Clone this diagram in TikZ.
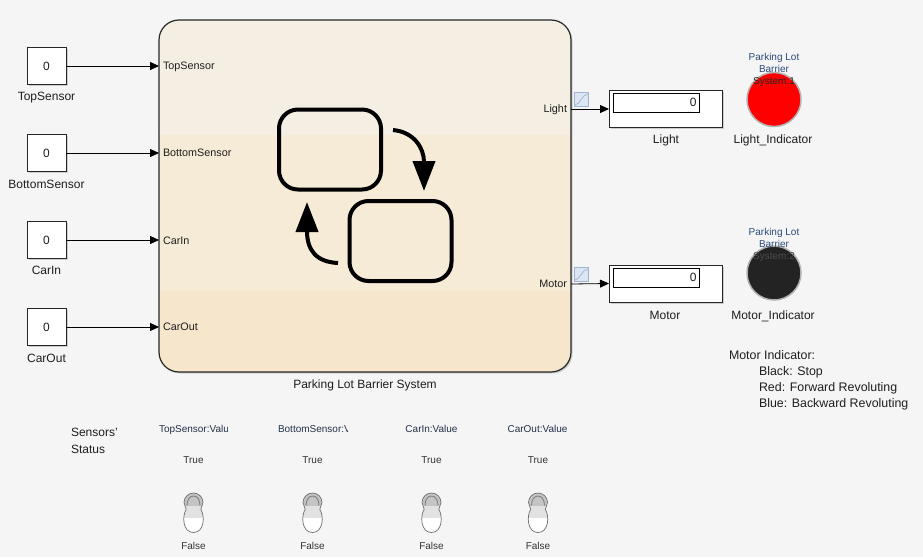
\documentclass[tikz,border=0pt]{standalone}
\usepackage{fontspec}
\setmainfont{Liberation Sans}
\usetikzlibrary{arrows.meta,shadows}
\definecolor{bgc}{HTML}{F5F5F5}
\definecolor{chtop}{HTML}{F5EFE3}
\definecolor{chmid}{HTML}{F6EBD6}
\definecolor{chbot}{HTML}{F6E6CB}
\definecolor{txt}{HTML}{1E1E1E}
\definecolor{lamptxt}{HTML}{2A4A7A}
\definecolor{smalltxt}{HTML}{22324A}
\definecolor{iconfill}{HTML}{DCE6F2}
\definecolor{iconline}{HTML}{9FB5CF}
\definecolor{lampred}{HTML}{FF0000}
\definecolor{lampdark}{HTML}{232323}
\definecolor{tgdark}{HTML}{6E6E6E}
\definecolor{tgtop}{HTML}{C4C4C4}
\definecolor{tgmid}{HTML}{E2E2E2}
\tikzset{
  tog/.pic={
    \begin{scope}
      \clip (-9.5,0) .. controls (-9.5,-5.2) and (-5.2,-9.5) .. (0,-9.5) .. controls (5.2,-9.5) and (9.5,-5.2) .. (9.5,0)
        -- (7.3,7) .. controls (11.5,13) and (11,30) .. (0,30) .. controls (-11,30) and (-11.5,13) .. (-7.3,7) -- cycle;
      \fill[white] (-12,-10) rectangle (12,31);
      \fill[tgtop] (-12,-10) rectangle (12,3);
      \fill[tgmid] (-12,3) rectangle (12,15);
    \end{scope}
    \draw[tgdark,line width=0.7pt] (-9.5,0) .. controls (-9.5,-5.2) and (-5.2,-9.5) .. (0,-9.5) .. controls (5.2,-9.5) and (9.5,-5.2) .. (9.5,0)
        -- (7.3,7) .. controls (11.5,13) and (11,30) .. (0,30) .. controls (-11,30) and (-11.5,13) .. (-7.3,7) -- cycle;
    \draw[black!50,line width=0.9pt] (-6.5,3) .. controls (-6.5,-3.2) and (-3.5,-6.5) .. (0,-6.5) .. controls (3.5,-6.5) and (6.5,-3.2) .. (6.5,3);
  }
}
\begin{document}
\begin{tikzpicture}[x=1pt,y=-1pt,
  every node/.style={inner sep=0pt,outer sep=0pt},
  f12/.style={font=\fontsize{12}{14}\selectfont,text height=8.6pt,text depth=0pt,text=txt},
  fleg/.style={font=\fontsize{12.4}{14}\selectfont,text height=8.9pt,text depth=0pt,text=txt},
  f11/.style={font=\fontsize{10.8}{13}\selectfont,text height=7.8pt,text depth=0pt,text=txt},
  fsm/.style={font=\fontsize{10}{12}\selectfont,text height=7.2pt,text depth=0pt,text=smalltxt},
  flamp/.style={font=\fontsize{10}{12}\selectfont,text height=7.2pt,text depth=0pt,text=lamptxt},
  shad/.style={drop shadow={shadow xshift=1.5pt,shadow yshift=-1.5pt,fill=black!30,opacity=0.6}},
  constblk/.style={draw=black!85,line width=0.8pt,fill=white,minimum width=39pt,minimum height=37pt,f12,shad},
  dispblk/.style={draw=black!85,line width=0.8pt,fill=white,minimum width=113pt,minimum height=37pt,shad},
  dispin/.style={draw=black,line width=0.8pt,fill=white,minimum width=86pt,minimum height=19pt},
  sig/.style={draw=black,line width=0.8pt,-{Triangle[length=9pt,width=8pt]}},
  stateblk/.style={draw=black,line width=4pt,rounded corners=19pt,minimum width=102pt,minimum height=80pt},
  trans/.style={draw=black,line width=4pt,-{Triangle[length=30pt,width=22pt]}},
  sigicon/.style={draw=iconline,fill=iconfill,line width=0.6pt,minimum size=14pt},
  lampblk/.style={circle,draw=black!30,line width=1.5pt,minimum size=54pt},
]
\useasboundingbox (0,0) rectangle (923,557);
\fill[bgc] (0,0) rectangle (923,557);

% chart
\node[anchor=north west,minimum width=412pt,minimum height=352pt,rounded corners=20pt,
  fill=chtop,draw=black!85,line width=1.2pt,shad,
  path picture={
    \fill[chmid,sharp corners] ([yshift=-115pt]path picture bounding box.north west) rectangle ([yshift=-271pt]path picture bounding box.north east);
    \fill[chbot,sharp corners] ([yshift=-271pt]path picture bounding box.north west) rectangle (path picture bounding box.south east);
  }] (chart) at (159,20) {};
\node[f12] (chartlbl) at (365,384) {Parking Lot Barrier System};

\coordinate (pTop) at (159,66);
\coordinate (pBot) at (159,153);
\coordinate (pIn) at (159,240);
\coordinate (pOut) at (159,327);
\coordinate (oLight) at (571,109);
\coordinate (oMotor) at (571,284);

\node[f11,anchor=west] (lTop) at (163,66) {TopSensor};
\node[f11,anchor=west] (lBot) at (163,153) {BottomSensor};
\node[f11,anchor=west] (lIn) at (163,241) {CarIn};
\node[f11,anchor=west] (lOut) at (163,327) {CarOut};
\node[f11,anchor=east] (lLight) at (567,109) {Light};
\node[f11,anchor=east] (lMotor) at (567,284) {Motor};

% states
\node[stateblk] (s1) at (330,149.5) {};
\node[stateblk] (s2) at (400.5,241) {};
\draw[trans] (393,130) .. controls (414,132) and (424,148) .. (424,191);
\draw[trans] (338,263) .. controls (316,262) and (307,250) .. (307,202);

% constant blocks
\node[constblk] (cTop) at (46.5,66) {0};
\node[constblk] (cBot) at (46.5,153) {0};
\node[constblk] (cIn) at (46.5,240) {0};
\node[constblk] (cOut) at (46.5,327) {0};
\node[f12] (ncTop) at (46.5,96) {TopSensor};
\node[f12] (ncBot) at (46.5,184) {BottomSensor};
\node[f12] (ncIn) at (46.5,270) {CarIn};
\node[f12] (ncOut) at (46.5,358) {CarOut};
\draw[sig] (cTop.east) -- (pTop);
\draw[sig] (cBot.east) -- (pBot);
\draw[sig] (cIn.east) -- (pIn);
\draw[sig] (cOut.east) -- (pOut);

% displays
\node[dispblk] (dLight) at (665.5,109) {};
\node[dispin] (dLightV) at (656,102.5) {};
\node[f12,anchor=east] (vLight) at (696.5,102.5) {0};
\node[f12] (nLight) at (666,139.5) {Light};
\node[dispblk] (dMotor) at (665.5,283.5) {};
\node[dispin] (dMotorV) at (656,277.5) {};
\node[f12,anchor=east] (vMotor) at (696.5,277.5) {0};
\node[f12] (nMotor) at (665,315) {Motor};
\draw[sig] (oLight) -- (dLight.west);
\draw[sig] (oMotor) -- (dMotor.west);

% logging icons
\node[sigicon] (iLight) at (581.5,99.5) {};
\draw[iconline,line width=0.7pt] (575,105) .. controls (580,105) and (582,94) .. (588,94);
\node[sigicon] (iMotor) at (581.5,274.5) {};
\draw[iconline,line width=0.7pt] (575,280) .. controls (580,280) and (582,269) .. (588,269);

% lamps
\node[lampblk,fill=lampred] (lampL) at (774,99.5) {};
\node[lampblk,fill=lampdark] (lampM) at (774,273) {};
\node[flamp] (lt1) at (774,56.5) {Parking Lot};
\node[flamp] (lt2) at (774,68.5) {Barrier};
\node[flamp,text=black!85] (lt3) at (774,81) {System:1};
\node[flamp] (mt1) at (774,231.5) {Parking Lot};
\node[flamp] (mt2) at (774,243.5) {Barrier};
\node[flamp,text=black!70] (mt3) at (774,255.5) {System:2};
\node[f12] (nLampL) at (773,139.5) {Light\_Indicator};
\node[f12] (nLampM) at (773,315) {Motor\_Indicator};

% motor legend
\node[fleg,anchor=west] (leg0) at (729,355) {Motor Indicator:};
\node[fleg,anchor=west] (leg1) at (759,371) {Black: Stop};
\node[fleg,anchor=west] (leg2) at (759,387) {Red: Forward Revoluting};
\node[fleg,anchor=west] (leg3) at (759,403.5) {Blue: Backward Revoluting};

% sensors status
\node[f12,anchor=west] (ss1) at (71,432) {Sensors'};
\node[f12,anchor=west] (ss2) at (71,449) {Status};

\begin{scope}
  \clip (158,419) rectangle (227.5,438);
  \node[fsm,anchor=west] (hTop) at (159,428.5) {TopSensor:Value};
\end{scope}
\begin{scope}
  \clip (277,419) rectangle (347,438);
  \node[fsm,anchor=west] (hBot) at (278,428.5) {BottomSensor:Value};
\end{scope}
\node[fsm] (hIn) at (431.5,428.5) {CarIn:Value};
\node[fsm] (hOut) at (537.5,428.5) {CarOut:Value};

\foreach \x/\n in {193.5/a,312.5/b,431.5/c,538/d}{
  \node[fsm,text=black!80] (t\n) at (\x,460) {True};
  \node[fsm,text=black!80] (f\n) at (\x,546) {False};
  \pic at (\x,502.5) {tog};
}
\end{tikzpicture}
\end{document}
